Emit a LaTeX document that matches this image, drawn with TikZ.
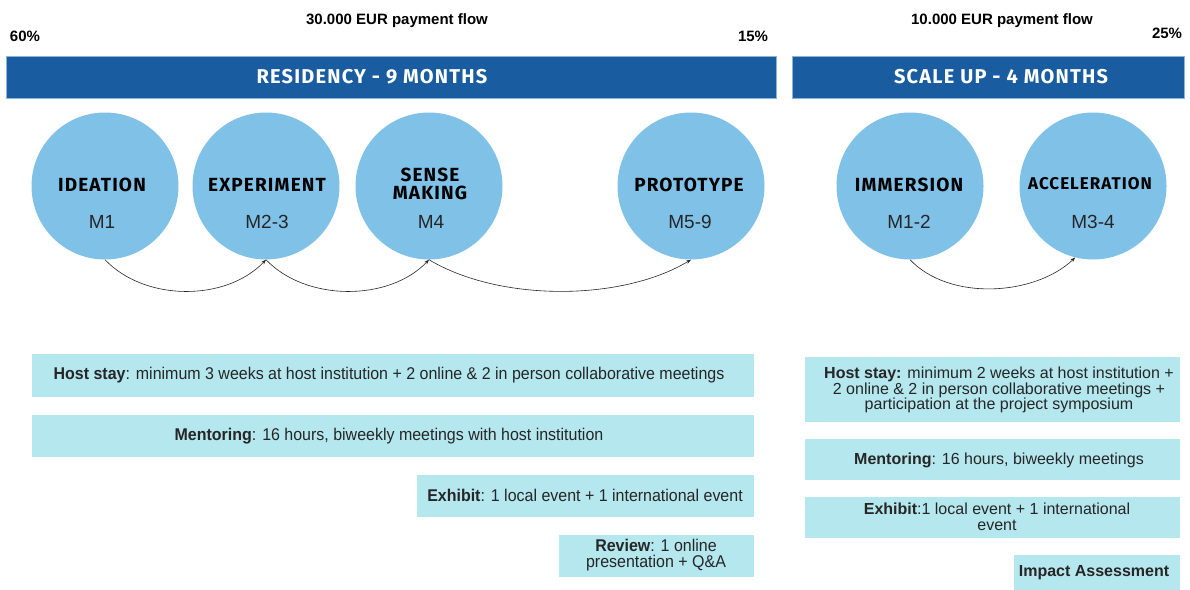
\documentclass[tikz,border=0pt]{standalone}
\usepackage{fontspec}
\setmainfont{Liberation Sans}
\newfontfamily\condfont{Liberation Sans}[FakeStretch=0.94]
\newfontfamily\headfont{Fira Sans}[LetterSpace=6]
\usetikzlibrary{arrows.meta}
\definecolor{barblue}{HTML}{1A5CA0}
\definecolor{barline}{HTML}{8CB4D8}
\definecolor{circblue}{HTML}{80C1E8}
\definecolor{boxcyan}{HTML}{B4E7EE}
\tikzset{
  bar/.style={fill=barblue, draw=barline, line width=0.8pt, inner sep=0pt},
  bartitle/.style={text=white, font=\headfont\bfseries\fontsize{20}{20}\selectfont, inner sep=0pt},
  phase/.style={circle, fill=circblue, minimum size=147pt, inner sep=0pt},
  ptitle/.style={font=\headfont\bfseries\fontsize{19}{18}\selectfont, align=center, inner sep=0pt},
  pmonth/.style={font=\fontsize{19}{20}\selectfont, text=black!85, inner sep=0pt},
  toptext/.style={font=\bfseries\fontsize{15}{16}\selectfont, inner sep=0pt},
  cbox/.style={fill=boxcyan, draw=white, line width=0.6pt, inner sep=0pt},
  ltext/.style={font=\condfont\fontsize{17}{16}\selectfont, text=black!85, align=center, inner sep=0pt},
  rtext/.style={font=\fontsize{16}{15.5}\selectfont, text=black!85, align=center, inner sep=0pt},
  flow/.style={-{Stealth[length=5pt,width=3.5pt]}, line width=0.6pt, black!85},
}
\begin{document}
\begin{tikzpicture}[x=1pt,y=-1pt]
\useasboundingbox (0,0) rectangle (1190,589);
\fill[white] (0,0) rectangle (1190,589);

% top texts
\node[toptext] (pay1) at (397,21) {30.000 EUR payment flow};
\node[toptext] (p60) at (25,36) {60\%};
\node[toptext] (p15) at (753,36) {15\%};
\node[toptext] (pay2) at (1002,21) {10.000 EUR payment flow};
\node[toptext] (p25) at (1167,33) {25\%};

% bars
\draw[bar] (6,56) rectangle (776,98);
\node[bartitle] (res) at (372,77) {RESIDENCY - 9 MONTHS};
\draw[bar] (792,56) rectangle (1184,98);
\node[bartitle] (sca) at (1001,77) {SCALE UP - 4 MONTHS};

% circles
\node[phase] (ide) at (105,186) {};
\node[phase] (exp) at (266,186) {};
\node[phase] (sen) at (429,186) {};
\node[phase] (pro) at (691,186) {};
\node[phase] (imm) at (910,186) {};
\node[phase] (acc) at (1093,186) {};

\node[ptitle] (ide-t) at (102,185) {IDEATION};
\node[pmonth] (ide-m) at (102,222) {M1};
\node[ptitle] (exp-t) at (267,185) {EXPERIMENT};
\node[pmonth] (exp-m) at (267,222) {M2-3};
\node[ptitle] (sen-t) at (430,184) {SENSE\\MAKING};
\node[pmonth] (sen-m) at (431,222) {M4};
\node[ptitle] (pro-t) at (689,185) {PROTOTYPE};
\node[pmonth] (pro-m) at (690,222) {M5-9};
\node[ptitle] (imm-t) at (909,185) {IMMERSION};
\node[pmonth] (imm-m) at (909,222) {M1-2};
\node[ptitle, font=\headfont\bfseries\fontsize{17}{17}\selectfont] (acc-t) at (1090,184) {ACCELERATION};
\node[pmonth] (acc-m) at (1093,222) {M3-4};

% connectors
\draw[flow] (ide.south) .. controls +(40,42) and +(-40,42) .. (exp.south);
\draw[flow] (exp.south) .. controls +(40,42) and +(-40,42) .. (sen.south);
\draw[flow] (sen.south) .. controls +(70,42) and +(-70,42) .. (pro.south);
\draw[flow] (imm.south) .. controls +(40,42) and +(-40,38) .. (acc.256);

% left boxes
\draw[cbox] (31,353) rectangle (754,397);
\node[ltext] (lhost) at (389,375) {\textbf{Host stay}: minimum 3 weeks at host institution + 2 online \& 2 in person collaborative meetings};
\draw[cbox] (31,414) rectangle (754,457);
\node[ltext] (lment) at (389,436) {\textbf{Mentoring}: 16 hours, biweekly meetings with host institution};
\draw[cbox] (416,474) rectangle (754,517);
\node[ltext] (lexh) at (585,495) {\textbf{Exhibit}: 1 local event + 1 international event};
\draw[cbox] (558,534) rectangle (754,577);
\node[ltext] (lrev) at (656,555) {\textbf{Review}: 1 online\\presentation + Q\&A};

% right boxes
\draw[cbox] (804,356) rectangle (1180,422);
\node[rtext] (rhost) at (999,390) {\textbf{Host stay:} minimum 2 weeks at host institution +\\2 online \& 2 in person collaborative meetings +\\participation at the project symposium};
\draw[cbox] (804,438) rectangle (1180,480);
\node[rtext] (rment) at (999,460) {\textbf{Mentoring}: 16 hours, biweekly meetings};
\draw[cbox] (804,496) rectangle (1180,538);
\node[rtext] (rexh) at (997,517) {\textbf{Exhibit}:1 local event + 1 international\\event};
\draw[cbox] (1013,554) rectangle (1180,592);
\node[rtext] (rimp) at (1094,573) {\textbf{Impact Assessment}};
\end{tikzpicture}
\end{document}
